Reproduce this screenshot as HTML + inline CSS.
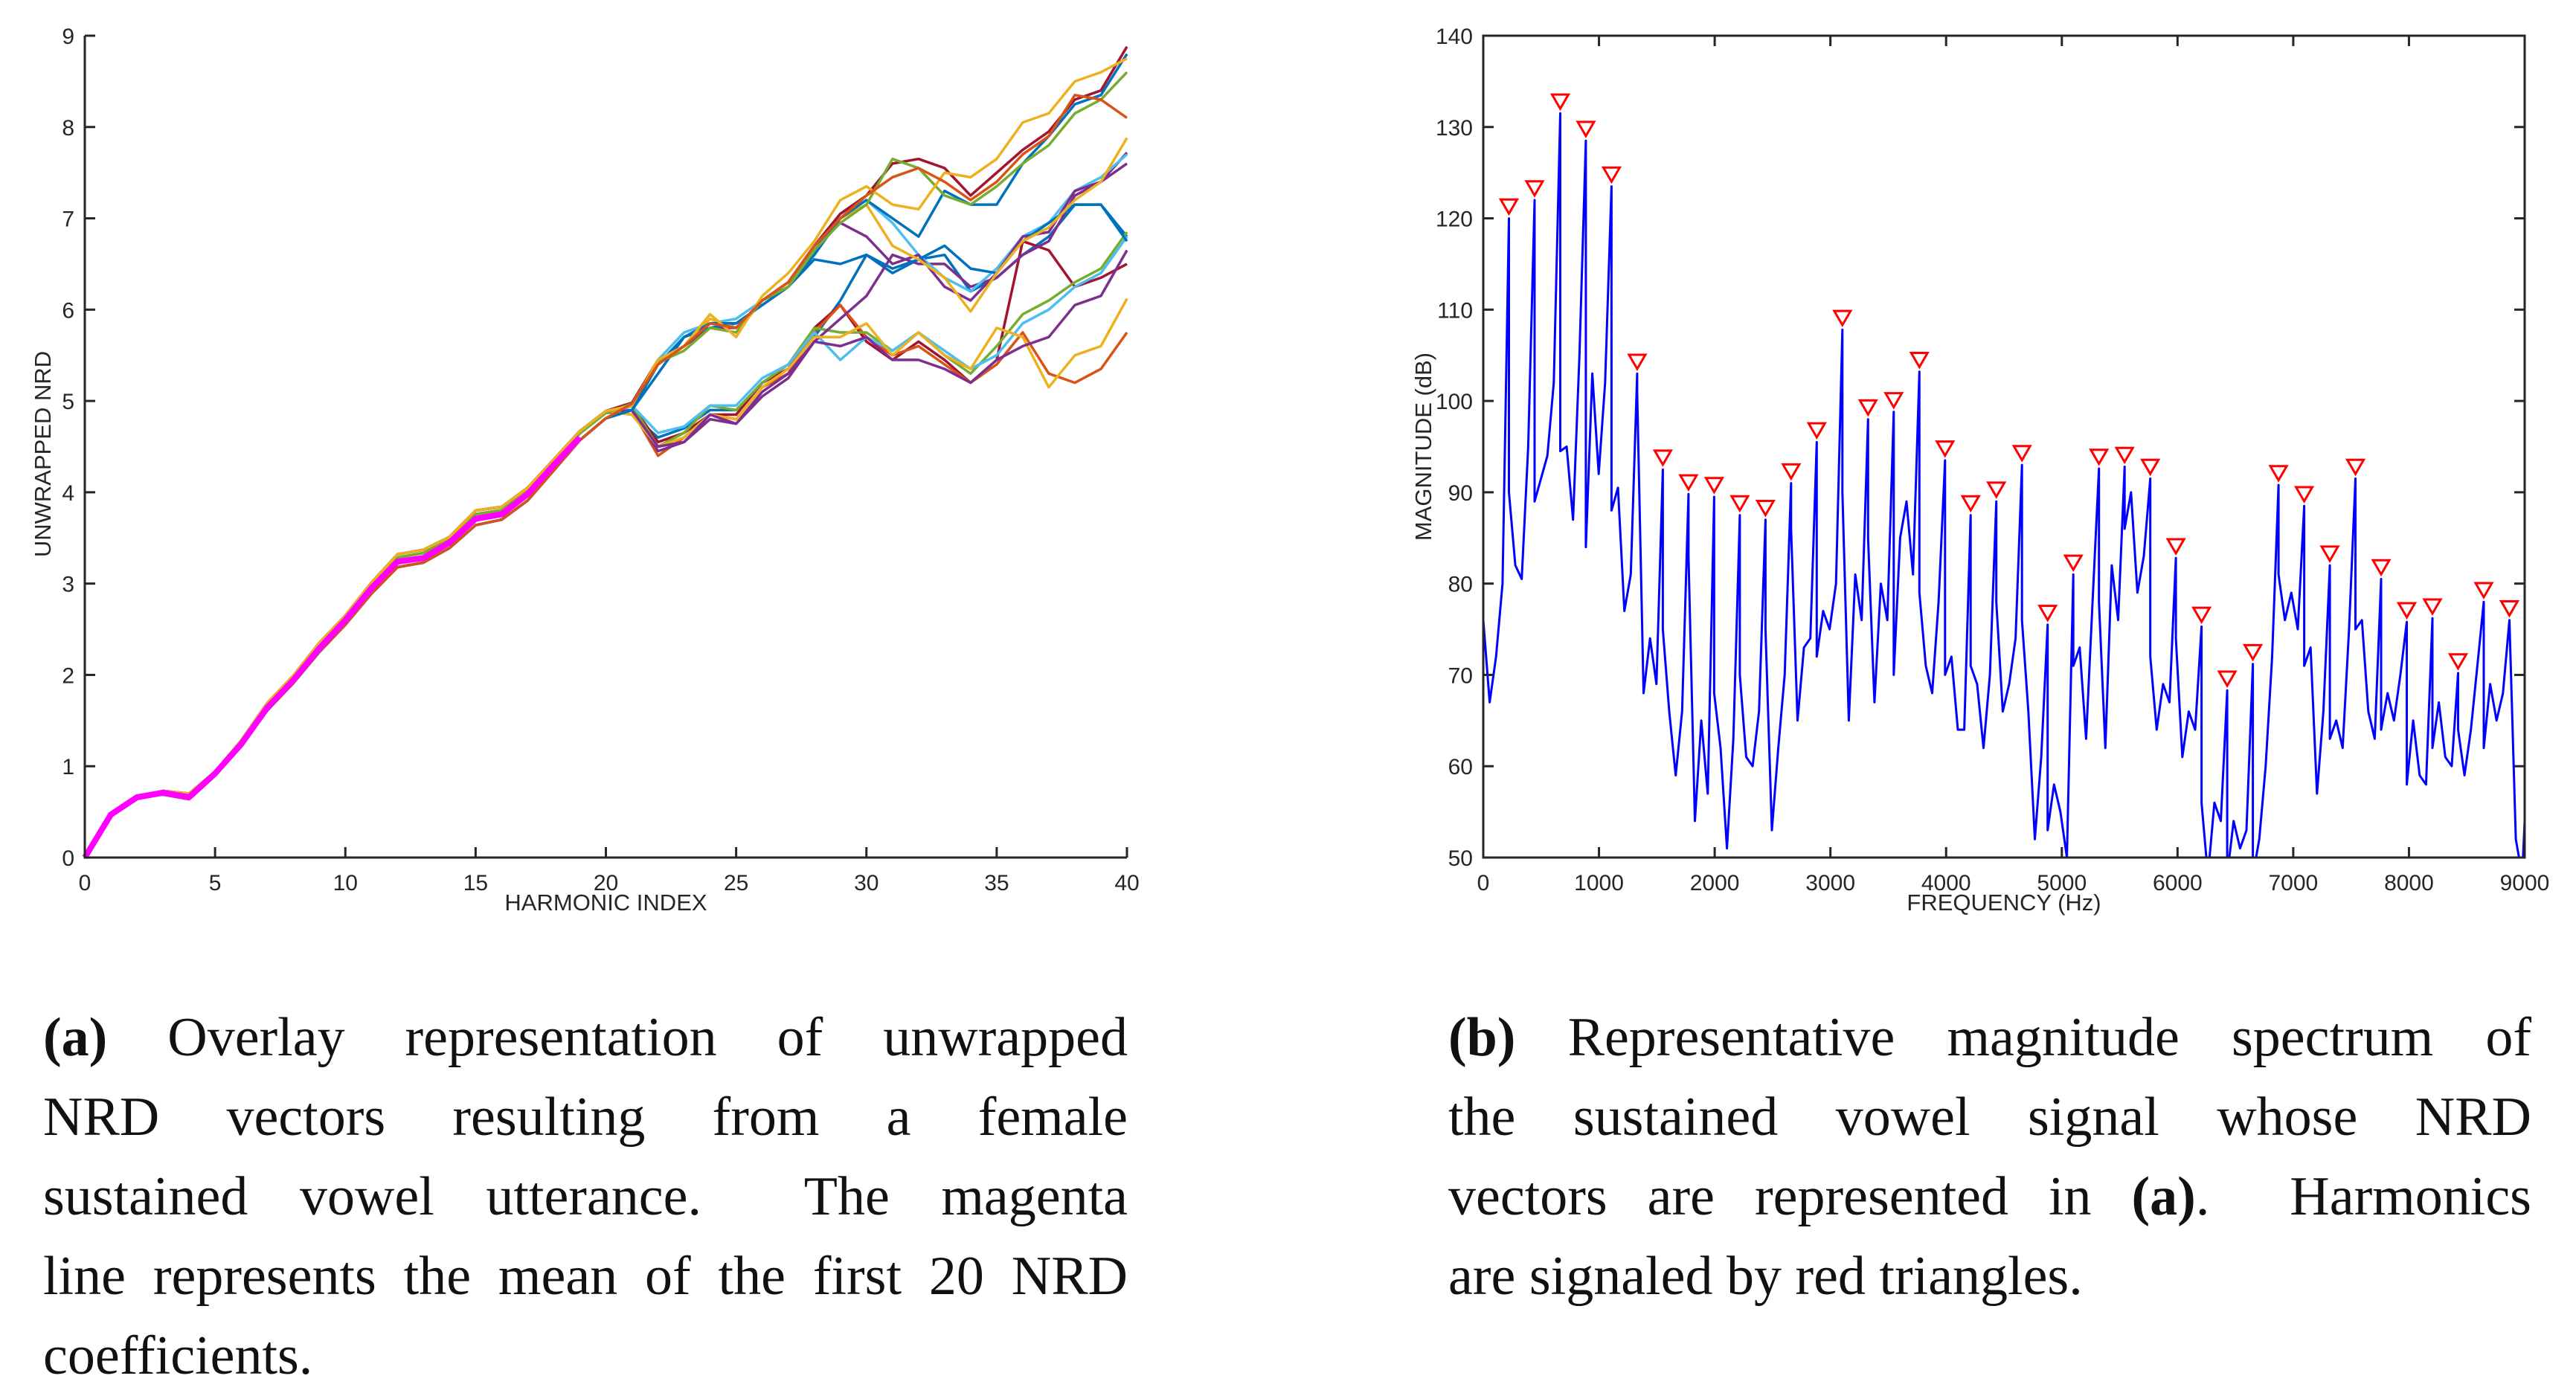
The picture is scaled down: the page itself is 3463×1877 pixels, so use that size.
<!DOCTYPE html>
<html><head><meta charset="utf-8">
<style>
html,body{margin:0;padding:0;background:#fff;}
body{width:3463px;height:1874px;position:relative;overflow:hidden;}
svg{position:absolute;left:0;top:0;}
.cap{position:absolute;font-family:"Liberation Serif",serif;font-size:74px;line-height:107px;color:#111;}
.cap div{text-align:justify;text-align-last:justify;white-space:nowrap;}
.cap div.last{text-align-last:left;}
.cap b{font-weight:bold;}
</style></head>
<body>
<svg id="chart" width="3463" height="1874" xmlns="http://www.w3.org/2000/svg"></svg>
<div class="cap" style="left:58px;top:1342px;width:1458px;">
<div><b>(a)</b> Overlay representation of unwrapped</div>
<div>NRD vectors resulting from a female</div>
<div>sustained vowel utterance.&nbsp; The magenta</div>
<div>line represents the mean of the first 20 NRD</div>
<div class="last">coefficients.</div>
</div>
<div class="cap" style="left:1947px;top:1342px;width:1456px;">
<div><b>(b)</b> Representative magnitude spectrum of</div>
<div>the sustained vowel signal whose NRD</div>
<div>vectors are represented in <b>(a)</b>.&nbsp; Harmonics</div>
<div class="last">are signaled by red triangles.</div>
</div>
<script>
// ---- Left chart data ----
const harmonicIndexTicks = [0,5,10,15,20,25,30,35,40];
const nrdTicks = [0,1,2,3,4,5,6,7,8,9];
const nrdBase = [0,0.47,0.66,0.71,0.67,0.92,1.25,1.65,1.95,2.3,2.6,2.95,3.25,3.3,3.45,3.72,3.77,3.98,4.3,4.62,4.85];
const meanLine = [0,0.47,0.66,0.71,0.66,0.92,1.24,1.64,1.94,2.29,2.6,2.95,3.24,3.28,3.45,3.71,3.76,3.98,4.3,4.6];
const tail1 = [4.98,5.45,5.6,5.85,5.8,6.1,6.3,6.7,7.05,7.25,7.6,7.65,7.55,7.25,7.5,7.75,7.95,8.3,8.4,8.88];
const tail2 = [4.9,5.4,5.7,5.85,5.85,6.05,6.25,6.6,7.0,7.2,7.0,6.8,7.3,7.15,7.15,7.6,7.9,8.25,8.35,8.8];
const tail3 = [4.97,5.42,5.55,5.8,5.75,6.1,6.25,6.65,6.95,7.15,7.65,7.55,7.25,7.15,7.35,7.6,7.8,8.15,8.3,8.6];
const tail4 = [4.95,5.45,5.6,5.95,5.7,6.15,6.4,6.75,7.2,7.35,7.15,7.1,7.5,7.45,7.65,8.05,8.15,8.5,8.6,8.75];
const tail5 = [4.97,5.4,5.6,5.85,5.8,6.1,6.3,6.7,7.0,7.25,7.45,7.55,7.4,7.2,7.4,7.7,7.9,8.35,8.3,8.1];
const tail6 = [4.95,5.45,5.75,5.85,5.9,6.1,6.25,6.65,7.05,7.2,6.95,6.6,6.35,6.2,6.45,6.8,6.95,7.3,7.45,7.7];
const tail7 = [4.95,5.4,5.6,5.8,5.8,6.1,6.3,6.7,6.95,6.8,6.5,6.6,6.25,6.1,6.4,6.8,6.85,7.3,7.4,7.6];
const tail8 = [4.9,5.3,5.7,5.8,5.85,6.05,6.25,6.55,6.5,6.6,6.45,6.55,6.7,6.45,6.4,6.75,6.95,7.15,7.15,6.75];
const tail9 = [4.95,5.45,5.6,5.9,5.8,6.1,6.3,6.7,7.0,7.15,6.7,6.55,6.35,5.98,6.4,6.75,6.9,7.2,7.4,7.88];
const tail10 = [4.95,4.55,4.65,4.85,4.85,5.2,5.35,5.8,6.05,5.65,5.45,5.65,5.45,5.2,5.45,6.75,6.65,6.25,6.35,6.5];
const tail11 = [4.9,4.4,4.6,4.85,4.8,5.15,5.3,5.75,6.05,5.7,5.5,5.6,5.4,5.2,5.4,5.75,5.3,5.2,5.35,5.75];
const tail12 = [4.95,4.5,4.65,4.95,4.9,5.2,5.4,5.8,5.75,5.75,5.55,5.75,5.5,5.3,5.6,5.95,6.1,6.3,6.45,6.85];
const tail13 = [4.95,4.65,4.72,4.95,4.95,5.25,5.4,5.75,5.45,5.7,5.55,5.75,5.55,5.35,5.5,5.85,6.0,6.25,6.4,6.8];
const tail14 = [4.9,4.45,4.55,4.8,4.75,5.05,5.25,5.65,5.9,6.15,6.6,6.5,6.5,6.25,6.35,6.6,6.75,7.25,7.4,7.72];
const tail15 = [4.85,4.5,4.6,4.85,4.8,5.15,5.35,5.7,5.7,5.85,5.5,5.75,5.5,5.35,5.8,5.7,5.15,5.5,5.6,6.12];
const tail16 = [4.9,4.5,4.55,4.85,4.75,5.1,5.3,5.65,5.6,5.7,5.45,5.45,5.35,5.2,5.45,5.6,5.7,6.05,6.15,6.65];
const tail17 = [4.85,4.6,4.7,4.9,4.9,5.2,5.35,5.7,6.1,6.6,6.4,6.55,6.6,6.2,6.35,6.6,6.8,7.15,7.15,6.8];
const tails = [tail17,tail10,tail11,tail12,tail13,tail14,tail15,tail16,tail6,tail7,tail8,tail9,tail1,tail2,tail3,tail4,tail5];
const tailColors = ["#0072BD","#A2142F","#D95319","#77AC30","#4DBEEE","#7E2F8E","#EDB120","#7E2F8E","#4DBEEE","#7E2F8E","#0072BD","#EDB120","#A2142F","#0072BD","#77AC30","#EDB120","#D95319"];
const baseJitter = [0,0,0,0.02,0.03,0.02,0.03,0.04,0.04,0.05,0.05,0.06,0.07,0.07,0.06,0.08,0.07,0.07,0.06,0.05,0.04];

// ---- Right chart data ----
const freqTicks = [0,1000,2000,3000,4000,5000,6000,7000,8000,9000];
const dbTicks = [50,60,70,80,90,100,110,120,130,140];
const f0 = 221.7;
const harmonicPeaks = [121,123,132.5,129.5,124.5,104,93.5,90.8,90.5,88.5,88,92,96.5,108.8,99,99.8,104.2,94.5,88.5,90,94,76.5,82,93.6,93.8,92.5,83.8,76.3,69.3,72.2,91.8,89.5,83,92.5,81.5,76.8,77.2,71.2,79,77];
const betweenPeaks = [
[76,67,72,80],[90,82,80.5,95],[89,91.5,94,102],[94.5,95,87,105],[84,103,92,102],
[88,90.5,77,81],[101,68,74,69],[75,66,59,66],[83,54,65,57],[68,62,51,63],
[70,61,60,66],[75,53,62,70],[86,65,73,74],[72,77,75,80],[90,65,81,76],
[85,67,80,76],[70,85,89,81],[79,71,68,78],[70,72,64,64],[71,69,62,70],
[78,66,69,74],[76,66,52,61],[53,58,55,50],[71,73,63,78],[78,62,82,76],
[86,90,79,83],[72,64,69,67],[74,61,66,64],[56,48,56,54],[48,54,51,53],
[48,52,60,72],[81,76,79,75],[71,73,57,66],[63,65,62,75],[75,76,66,63],
[64,68,65,70],[58,65,59,58],[62,67,61,60],[64,59,64,71],[62,69,65,68]];
const spectrumTail = [52,48,54];

const NS="http://www.w3.org/2000/svg";
const svg=document.getElementById('chart');
function mk(tag,attrs,parent){const e=document.createElementNS(NS,tag);for(const k in attrs)e.setAttribute(k,attrs[k]);(parent||svg).appendChild(e);return e;}
const AX="#262626";
const FONT='"Liberation Sans", sans-serif';

// ===== Left chart =====
const L={x0:114,x1:1515,y0:1153,y1:48};
const lx=v=>L.x0+(v/40)*(L.x1-L.x0);
const ly=v=>L.y0-(v/9)*(L.y0-L.y1);
const gL=mk('g',{});


const gLines=mk('g',{},gL);


tails.forEach((t,i)=>{
  const sgn=(i%3===0)?1:((i%3===1)?-1:0.5);
  const vals=nrdBase.map((v,k)=>v+sgn*baseJitter[k]).concat(t);
  const pts=vals.map((v,k)=>lx(k).toFixed(1)+','+ly(v).toFixed(1)).join(' ');
  const p=mk('polyline',{points:pts,fill:'none',stroke:tailColors[i],'stroke-width':3.5,'stroke-linejoin':'round'},gLines);
  
  
});
const mp=mk('polyline',{points:meanLine.map((v,k)=>lx(k).toFixed(1)+','+ly(v).toFixed(1)).join(' '),fill:'none',stroke:'#FF00FF','stroke-width':8,'stroke-linejoin':'round'},gL);


const lax=mk('path',{d:`M${L.x0},${L.y1} V${L.y0} H${L.x1}`,fill:'none',stroke:AX,'stroke-width':3},gL);


harmonicIndexTicks.forEach(t=>{
  mk('line',{x1:lx(t),x2:lx(t),y1:L.y0,y2:L.y0-14,stroke:AX,'stroke-width':3},gL);
  const tx=mk('text',{x:lx(t),y:L.y0+44,'text-anchor':'middle','font-family':FONT,'font-size':30,fill:AX},gL);
  tx.textContent=t;
  
  
});
nrdTicks.forEach(t=>{
  mk('line',{x1:L.x0,x2:L.x0+14,y1:ly(t),y2:ly(t),stroke:AX,'stroke-width':3},gL);
  const tx=mk('text',{x:L.x0-14,y:ly(t)+11,'text-anchor':'end','font-family':FONT,'font-size':30,fill:AX},gL);
  tx.textContent=t;
  
  
});
const lxl=mk('text',{x:(L.x0+L.x1)/2,y:1224,'text-anchor':'middle','font-family':FONT,'font-size':31,fill:AX},gL);
lxl.textContent='HARMONIC INDEX';


const lyl=mk('text',{x:0,y:0,'text-anchor':'middle','font-family':FONT,'font-size':31,fill:AX,transform:`translate(68,${(L.y0+L.y1)/2+10}) rotate(-90)`},gL);
lyl.textContent='UNWRAPPED NRD';



// ===== Right chart =====
const R={x0:1994,x1:3394,y0:1153,y1:48};
const rx=f=>R.x0+(f/9000)*(R.x1-R.x0);
const ry=v=>R.y0-((v-50)/90)*(R.y0-R.y1);
const gR=mk('g',{});


const defs=mk('defs',{});
const cp=mk('clipPath',{id:'rclip'},defs);
mk('rect',{x:R.x0,y:R.y1,width:R.x1-R.x0,height:R.y0-R.y1},cp);
const spec=[];
for(let h=0;h<harmonicPeaks.length;h++){
  betweenPeaks[h].forEach((v,j)=>spec.push([ (h+j/4)*f0, v ]));
  spec.push([(h+1)*f0, harmonicPeaks[h]-1]);
}
spectrumTail.forEach((v,j)=>spec.push([(harmonicPeaks.length+(j+1)/4)*f0,v]));
const sp=mk('polyline',{points:spec.map(p=>rx(Math.min(p[0],9000)).toFixed(1)+','+ry(p[1]).toFixed(1)).join(' '),fill:'none',stroke:'#0000FF','stroke-width':3,'stroke-linejoin':'round','clip-path':'url(#rclip)'},gR);


const gT=mk('g',{},gR);


harmonicPeaks.forEach((v,h)=>{
  const cx=rx((h+1)*f0), cy=ry(v)-4;
  const t=mk('polygon',{points:`${cx-11},${cy-9} ${cx+11},${cy-9} ${cx},${cy+10}`,fill:'#fff',stroke:'#FF0000','stroke-width':3},gT);
  
  
});
const rbox=mk('rect',{x:R.x0,y:R.y1,width:R.x1-R.x0,height:R.y0-R.y1,fill:'none',stroke:AX,'stroke-width':3},gR);


freqTicks.forEach(t=>{
  mk('line',{x1:rx(t),x2:rx(t),y1:R.y0,y2:R.y0-14,stroke:AX,'stroke-width':3},gR);
  mk('line',{x1:rx(t),x2:rx(t),y1:R.y1,y2:R.y1+14,stroke:AX,'stroke-width':3},gR);
  const tx=mk('text',{x:rx(t),y:R.y0+44,'text-anchor':'middle','font-family':FONT,'font-size':30,fill:AX},gR);
  tx.textContent=t;
  
  
});
dbTicks.forEach(t=>{
  mk('line',{x1:R.x0,x2:R.x0+14,y1:ry(t),y2:ry(t),stroke:AX,'stroke-width':3},gR);
  mk('line',{x1:R.x1,x2:R.x1-14,y1:ry(t),y2:ry(t),stroke:AX,'stroke-width':3},gR);
  const tx=mk('text',{x:R.x0-14,y:ry(t)+11,'text-anchor':'end','font-family':FONT,'font-size':30,fill:AX},gR);
  tx.textContent=t;
  
  
});
const rxl=mk('text',{x:(R.x0+R.x1)/2,y:1224,'text-anchor':'middle','font-family':FONT,'font-size':31,fill:AX},gR);
rxl.textContent='FREQUENCY (Hz)';


const ryl=mk('text',{x:0,y:0,'text-anchor':'middle','font-family':FONT,'font-size':31,fill:AX,transform:`translate(1924,${(R.y0+R.y1)/2}) rotate(-90)`},gR);
ryl.textContent='MAGNITUDE (dB)';


</script>
</body></html>
